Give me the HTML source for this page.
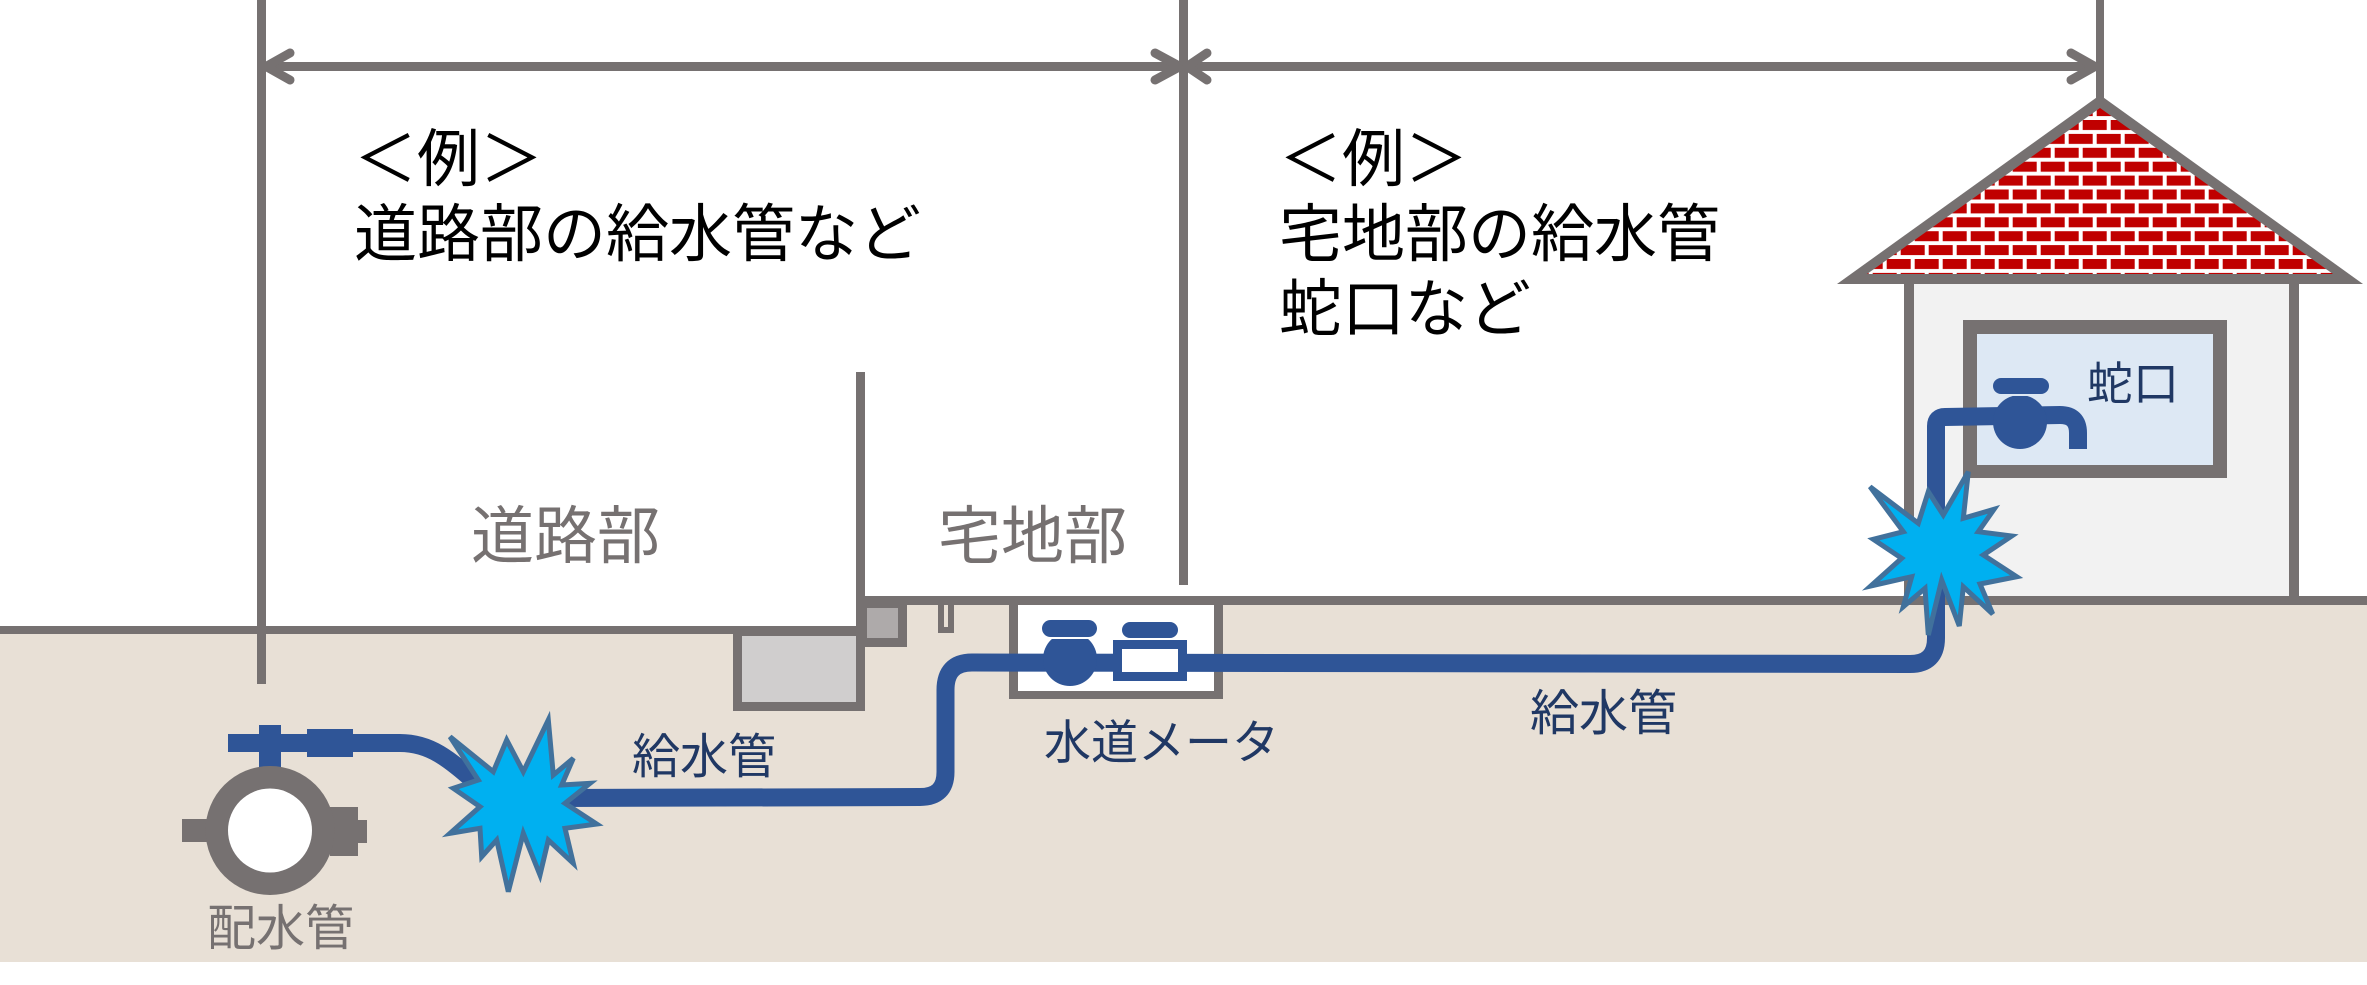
<!DOCTYPE html>
<html><head><meta charset="utf-8"><style>
html,body{margin:0;padding:0;background:#fff;}
svg{display:block;}
text{font-family:"Liberation Sans","Noto Sans CJK JP",sans-serif;}
</style></head><body>
<svg width="2367" height="985" viewBox="0 0 2367 985" xmlns="http://www.w3.org/2000/svg">
<defs>
<pattern id="brick" patternUnits="userSpaceOnUse" x="2082.7" y="120" width="28" height="27.8">
<rect x="0" y="0" width="28" height="27.8" fill="#fff"/>
<rect x="0" y="0" width="24" height="10" fill="#c00000"/>
<rect x="-14" y="13.9" width="24" height="10" fill="#c00000"/>
<rect x="14" y="13.9" width="24" height="10" fill="#c00000"/>
</pattern>
<clipPath id="cv"><rect x="1030" y="639" width="80" height="60"/></clipPath>
<clipPath id="cf"><rect x="1985" y="396" width="70" height="60"/></clipPath>
</defs>
<rect width="2367" height="985" fill="#fff"/>
<!-- ground -->
<rect x="0" y="630" width="862" height="332" fill="#e8e0d6"/>
<rect x="860" y="600" width="1507" height="362" fill="#e8e0d6"/>
<!-- house -->
<rect x="1914" y="284" width="375" height="313" fill="#f2f2f2"/>
<rect x="1904" y="280" width="10" height="320" fill="#767171"/>
<rect x="2289" y="280" width="10" height="320" fill="#767171"/>
<polygon points="2100,95 1837,284 2363,284" fill="#767171"/>
<polygon points="2100,108 1867,274 2333,274" fill="url(#brick)"/>
<rect x="1963" y="320" width="264" height="158" fill="#767171"/>
<rect x="1977" y="334" width="236" height="131" fill="#dde8f4"/>
<!-- gray lines -->
<rect x="0" y="626" width="862" height="8" fill="#767171"/>
<rect x="856" y="596" width="1511" height="9" fill="#767171"/>
<rect x="257" y="0" width="9" height="684" fill="#767171"/>
<rect x="1179" y="0" width="9" height="585" fill="#767171"/>
<rect x="2096" y="0" width="8" height="98" fill="#767171"/>
<rect x="856" y="372" width="9" height="339" fill="#767171"/>
<!-- road box -->
<rect x="733" y="626" width="132" height="85" fill="#767171"/>
<rect x="742" y="636" width="114" height="66" fill="#d0cece"/>
<!-- small box -->
<rect x="860" y="605" width="47" height="42" fill="#767171"/>
<rect x="867" y="608" width="31" height="30" fill="#aeaaaa"/>
<!-- post -->
<rect x="938" y="605" width="16" height="28" fill="#767171"/>
<rect x="944" y="605" width="4" height="22" fill="#e8e0d6"/>
<!-- meter box -->
<rect x="1009" y="605" width="214" height="94" fill="#767171"/>
<rect x="1018" y="605" width="196" height="86" fill="#fff"/>
<!-- dimension arrows -->
<line x1="261" y1="66.5" x2="2100" y2="66.5" stroke="#767171" stroke-width="9"/>
<g fill="none" stroke="#767171" stroke-width="9" stroke-linecap="round" stroke-linejoin="round">
<polyline points="290,53 266,66.5 290,80"/>
<polyline points="1155,53 1180,66.5 1155,80"/>
<polyline points="1207,53 1187,66.5 1207,80"/>
<polyline points="2071,53 2095,66.5 2071,80"/>
</g>
<!-- distribution pipe -->
<rect x="182" y="819" width="30" height="23" fill="#767171"/>
<rect x="330" y="807" width="28" height="49" fill="#767171"/>
<rect x="356" y="820" width="11" height="23" fill="#767171"/>
<rect x="259" y="725" width="22" height="48" fill="#2f5597"/>
<circle cx="270" cy="830.5" r="64.5" fill="#767171"/>
<circle cx="270" cy="830.5" r="42" fill="#fff"/>
<rect x="307" y="729" width="46" height="28" fill="#2f5597"/>
<path d="M228 743 L400 743 C430 743 448 758 480 786" fill="none" stroke="#2f5597" stroke-width="18"/>
<!-- service pipe -->
<path d="M560 798 L920 797 Q945.5 797 945.5 772 L945.5 690 Q945.5 662.5 972 662.5 L1910 664 Q1936 664 1936 638 L1936 426 Q1936 417 1945 417 L2060 415 Q2078 415 2078 433 L2078 449" fill="none" stroke="#2f5597" stroke-width="18"/>
<!-- valve in meter box -->
<rect x="1042" y="620" width="55" height="17" rx="8.5" fill="#2f5597"/>
<circle cx="1070" cy="659" r="27" fill="#2f5597" clip-path="url(#cv)"/>
<!-- meter -->
<rect x="1122" y="622" width="56" height="16" rx="8" fill="#2f5597"/>
<rect x="1113" y="640" width="74" height="41" fill="#2f5597"/>
<rect x="1122" y="649" width="56" height="23" fill="#fff"/>
<!-- faucet -->
<rect x="1993" y="378" width="56" height="16" rx="8" fill="#2f5597"/>
<circle cx="2020" cy="422" r="27" fill="#2f5597" clip-path="url(#cf)"/>
<!-- starbursts -->
<polygon points="450,736.7 493.3,771.7 506.7,740 523.3,771.7 548.3,720 553.3,775 573.3,758.3 561.7,785 590,783.3 565,803.3 596.7,824 565,828.3 573.3,863.3 548.3,840 540,875 523.3,833.3 508.3,891.7 496.7,840 481.7,856.7 480,828.3 450,833.3 480,806.7 453.3,788.3 478.3,780" fill="#00b0f0" stroke="#41719c" stroke-width="5"/>
<polygon points="1870,486.7 1918.3,523.3 1928.3,491.7 1943.3,515 1968.3,471.7 1963.3,518.3 1994,509.3 1978.3,531.7 2011.7,536 1983.3,555 2016.7,576.7 1980,584 1992.7,614 1963.3,586.7 1959.3,626 1941.7,580 1928.3,635 1925,588.3 1903.3,606.7 1911.7,576.7 1870.7,586 1901.7,558.3 1873.3,539.3 1903.3,531.7" fill="#00b0f0" stroke="#41719c" stroke-width="5"/>
<!-- texts -->
<g fill="#000" font-size="63">
<text x="354" y="181">＜例＞</text>
<text x="354" y="256">道路部の給水管など</text>
<text x="1279" y="181">＜例＞</text>
<text x="1279" y="256">宅地部の給水管</text>
<text x="1279" y="331">蛇口など</text>
</g>
<g fill="#767171" font-size="63">
<text x="471" y="558">道路部</text>
<text x="938" y="558">宅地部</text>
</g>
<text x="207" y="945" font-size="49" fill="#767171">配水管</text>
<g fill="#203864">
<text x="632" y="773" font-size="48">給水管</text>
<text x="1044" y="759" font-size="47">水道メータ</text>
<text x="1530" y="730" font-size="49">給水管</text>
<text x="2087" y="400" font-size="46">蛇口</text>
</g>
</svg>
</body></html>
